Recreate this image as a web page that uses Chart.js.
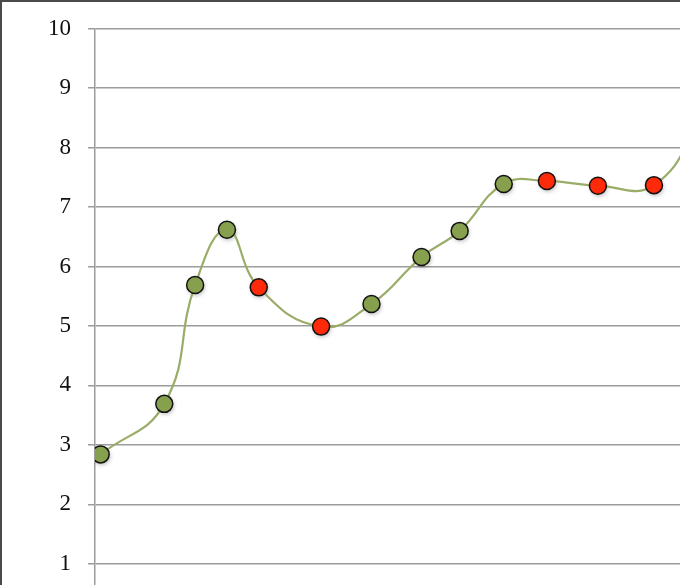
<!DOCTYPE html>
<html>
<head>
<meta charset="utf-8">
<script src="https://cdn.jsdelivr.net/npm/chart.js@4/dist/chart.umd.min.js"></script>
<style>
  html, body { margin: 0; padding: 0; background: #fff; overflow: hidden; }
  #wrap { position: relative; width: 680px; height: 585px; overflow: hidden; background: #fff; }
  #c { position: absolute; left: 0; top: -2px; width: 760px; height: 656px; }
  #frame { position: absolute; left: 0; top: 0; width: 680px; height: 585px; box-sizing: border-box;
           border-top: 2px solid #4a4a4a; border-left: 2px solid #4a4a4a; pointer-events: none; }
</style>
</head>
<body>
<div id="wrap">
  <canvas id="c" width="760" height="656"></canvas>
  <div id="frame"></div>
</div>
<script>
// ---- data ----
const xValues = [0.18, 2.20, 3.18, 4.19, 5.20, 7.18, 8.78, 10.37, 11.58, 12.98, 14.35, 15.97, 17.75, 19.4];
const yValues = [2.84, 3.69, 5.69, 6.62, 5.65, 4.99, 5.37, 6.16, 6.60, 7.39, 7.44, 7.36, 7.37, 8.6];
const flagged = [0, 0, 0, 0, 1, 1, 0, 0, 0, 0, 1, 1, 1, 0];
const yTicks = [1, 2, 3, 4, 5, 6, 7, 8, 9, 10];

const points = xValues.map((x, i) => ({ x: x, y: yValues[i] }));

const GREEN = '#87a04e';
const RED = '#ff2a0a';

// soft drop shadow beneath each marker
const markerShadow = {
  id: 'markerShadow',
  beforeDatasetDraw(chart, args) {
    const ctx = chart.ctx;
    const area = chart.chartArea;
    ctx.save();
    ctx.beginPath();
    ctx.rect(area.left, area.top, area.right - area.left, area.bottom - area.top);
    ctx.clip();
    args.meta.data.forEach(pt => {
      ctx.save();
      ctx.shadowColor = 'rgba(0,0,0,0.28)';
      ctx.shadowBlur = 4;
      ctx.shadowOffsetX = 1;
      ctx.shadowOffsetY = 2;
      ctx.fillStyle = '#ffffff';
      ctx.beginPath();
      ctx.arc(pt.x, pt.y, 8.5, 0, Math.PI * 2);
      ctx.fill();
      ctx.restore();
    });
    ctx.restore();
  }
};

new Chart(document.getElementById('c'), {
  type: 'line',
  data: {
    datasets: [{
      data: points,
      borderColor: '#9aad68',
      borderWidth: 2.2,
      tension: 0.45,
      pointRadius: 8.5,
      pointHoverRadius: 8.5,
      pointBorderWidth: 1.5,
      pointBorderColor: '#111',
      pointBackgroundColor: flagged.map(f => f ? RED : GREEN),
      fill: false
    }]
  },
  options: {
    responsive: false,
    maintainAspectRatio: false,
    animation: false,
    devicePixelRatio: 1,
    layout: { padding: { left: 0, top: 0, right: 5, bottom: 0 } },
    plugins: { legend: { display: false }, tooltip: { enabled: false } },
    scales: {
      x: {
        type: 'linear',
        min: 0,
        max: 20.8,
        display: false
      },
      y: {
        type: 'linear',
        min: 0,
        max: 10,
        afterFit: (s) => { s.width = 95; },
        afterBuildTicks: (s) => { s.ticks = yTicks.map(v => ({ value: v })); },
        ticks: {
          autoSkip: false,
          font: { family: '"Liberation Serif", serif', size: 23 },
          color: '#111',
          padding: 17
        },
        grid: {
          color: '#9c9c9c',
          lineWidth: 1.5,
          tickLength: 7,
          drawTicks: true
        },
        border: { color: '#9c9c9c', width: 1.5 }
      }
    }
  },
  plugins: [markerShadow]
});
</script>
</body>
</html>
